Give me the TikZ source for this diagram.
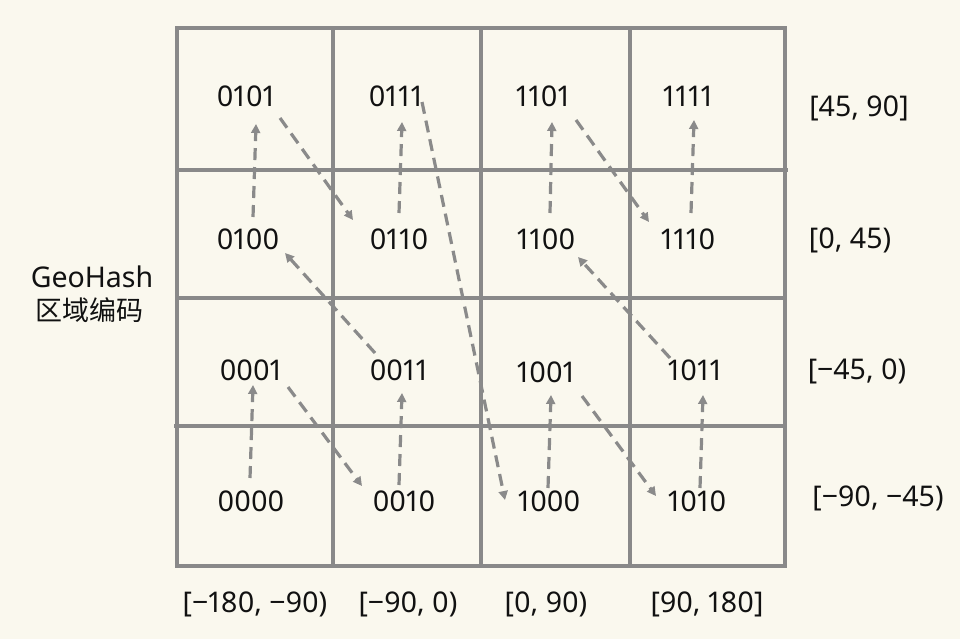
\documentclass[tikz,border=0pt]{standalone}
\usepackage{fontspec}
\setmainfont{Noto Sans}[Numbers=Proportional]
\newfontfamily\cjkfont{Noto Sans CJK SC}
\usetikzlibrary{arrows.meta}
\definecolor{bgc}{HTML}{FAF8EE}
\definecolor{gridc}{HTML}{898989}
\definecolor{arrc}{HTML}{8A8A8A}
\definecolor{txtc}{HTML}{111111}
\begin{document}
\begin{tikzpicture}[x=1pt,y=-1pt,
  lbl/.style={font=\fontsize{28.5}{32}\selectfont, text=txtc, inner sep=0pt},
  cjklbl/.style={font=\cjkfont\fontsize{27}{30}\selectfont, text=txtc, inner sep=0pt},
  gridline/.style={draw=gridc, line width=3.5pt},
  arr/.style={draw=arrc, line width=3.2pt, dash pattern=on 12pt off 7pt,
    -{Triangle[length=9pt,width=9pt]}}]
\fill[bgc] (0,0) rectangle (960,639);
\useasboundingbox (0,0) rectangle (960,639);
% grid
\draw[gridline] (177,28) rectangle (785,566);
\draw[gridline] (333,28) -- (333,566);
\draw[gridline] (481,28) -- (481,566);
\draw[gridline] (630,28) -- (630,566);
\draw[gridline] (177,170) -- (788,170);
\draw[gridline] (177,298) -- (785,298);
\draw[gridline] (174,426) -- (785,426);
% cell codes
\node[lbl] (n0101) at (246,96) {0101};
\node[lbl] (n0111) at (396,96) {0111};
\node[lbl] (n1101) at (543,96) {1101};
\node[lbl] (n1111) at (688,96) {1111};
\node[lbl] (n0100) at (248,239) {0100};
\node[lbl] (n0110) at (399,239) {0110};
\node[lbl] (n1100) at (546,239) {1100};
\node[lbl] (n1110) at (688,239) {1110};
\node[lbl] (n0001) at (251,370) {0001};
\node[lbl] (n0011) at (399,370) {0011};
\node[lbl] (n1001) at (546,372) {1001};
\node[lbl] (n1011) at (695,370) {1011};
\node[lbl] (n0000) at (251,501) {0000};
\node[lbl] (n0010) at (404,501) {0010};
\node[lbl] (n1000) at (549,501) {1000};
\node[lbl] (n1010) at (697,501) {1010};
% axis labels
\node[lbl] (r1) at (859,108) {[45, 90]};
\node[lbl] (r2) at (850,240) {[0, 45)};
\node[lbl] (r3) at (857,371) {[−45, 0)};
\node[lbl] (r4) at (878,498) {[−90, −45)};
\node[lbl] (b1) at (255,604) {[−180, −90)};
\node[lbl] (b2) at (408,604) {[−90, 0)};
\node[lbl] (b3) at (546,604) {[0, 90)};
\node[lbl] (b4) at (707,604) {[90, 180]};
\node[lbl] (g1) at (92,277) {GeoHash};
\node[cjklbl] (g2) at (89,310) {区域编码};
% z-order arrows
\draw[arr] ([shift={(-1,-23)}]n0000.center) -- ([shift={(2,15)}]n0001.center);
\draw[arr] ([shift={(37,17)}]n0001.center) -- ([shift={(-42,-15)}]n0010.center);
\draw[arr] ([shift={(-5,-16)}]n0010.center) -- ([shift={(3,23)}]n0011.center);
\draw[arr] ([shift={(-24,-17)}]n0011.center) -- ([shift={(37,14)}]n0100.center);
\draw[arr] ([shift={(5,-22)}]n0100.center) -- ([shift={(10,28)}]n0101.center);
\draw[arr] ([shift={(34,22)}]n0101.center) -- ([shift={(-46,-19)}]n0110.center);
\draw[arr] ([shift={(0,-26)}]n0110.center) -- ([shift={(6,26)}]n0111.center);
\draw[arr] ([shift={(26,6)}]n0111.center) -- ([shift={(-44,-1)}]n1000.center);
\draw[arr] ([shift={(-1,-13)}]n1000.center) -- ([shift={(5,23)}]n1001.center);
\draw[arr] ([shift={(36,24)}]n1001.center) -- ([shift={(-41,-5)}]n1010.center);
\draw[arr] ([shift={(3,-13)}]n1010.center) -- ([shift={(8,25)}]n1011.center);
\draw[arr] ([shift={(-25,-12)}]n1011.center) -- ([shift={(32,18)}]n1100.center);
\draw[arr] ([shift={(4,-26)}]n1100.center) -- ([shift={(9,26)}]n1101.center);
\draw[arr] ([shift={(33,24)}]n1101.center) -- ([shift={(-39,-17)}]n1110.center);
\draw[arr] ([shift={(3,-26)}]n1110.center) -- ([shift={(6,24)}]n1111.center);
\end{tikzpicture}
\end{document}
